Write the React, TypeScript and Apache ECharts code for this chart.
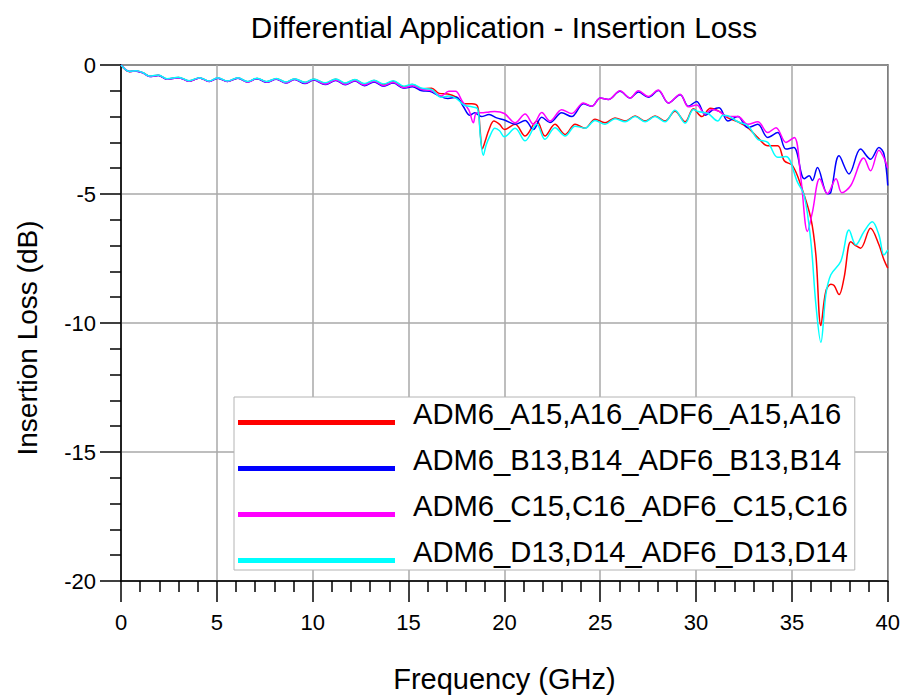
import React, { useEffect, useRef } from "react";
import * as echarts from "echarts";

const titleText = "Differential Application - Insertion Loss";
const xAxisName = "Frequency (GHz)";
const yAxisName = "Insertion Loss (dB)";

const seriesNames = [
  "ADM6_A15,A16_ADF6_A15,A16",
  "ADM6_B13,B14_ADF6_B13,B14",
  "ADM6_C15,C16_ADF6_C15,C16",
  "ADM6_D13,D14_ADF6_D13,D14",
];
const seriesColors = ["#ff0000", "#0000ff", "#ff00ff", "#00ffff"];

// [frequency GHz, insertion loss dB]
const curveA: [number, number][] = [
  [0, 0], [0.45, -0.26], [0.8, -0.23], [1.15, -0.3], [1.5, -0.44], [1.95, -0.4], [2.4, -0.54], [3.0, -0.48],
  [3.55, -0.62], [4.1, -0.5], [4.6, -0.63], [5.05, -0.5], [5.55, -0.63], [6.1, -0.5], [6.6, -0.65], [7.1, -0.52],
  [7.6, -0.65], [8.1, -0.53], [8.6, -0.67], [9.05, -0.54], [9.6, -0.68], [10.05, -0.55], [10.65, -0.7], [11.2, -0.55],
  [11.7, -0.71], [12.2, -0.57], [12.7, -0.74], [13.2, -0.6], [13.7, -0.76], [14.2, -0.63], [14.75, -0.84], [15.2, -0.76],
  [15.7, -0.92], [16.2, -0.9], [16.6, -1.1], [17.05, -1.12], [17.5, -1.25], [17.9, -1.5], [18.3, -1.5], [18.6, -1.6],
  [18.72, -2.4], [18.85, -3.25], [19.0, -2.95], [19.2, -2.5], [19.45, -2.17], [19.75, -2.3], [20.0, -2.5], [20.56, -2.3],
  [21.08, -2.75], [21.69, -2.17], [22.12, -2.75], [22.64, -2.3], [23.17, -2.69], [23.69, -2.3], [24.21, -2.45], [24.73, -2.1],
  [25.25, -2.24], [25.77, -2.05], [26.3, -2.17], [26.82, -1.98], [27.34, -2.17], [27.86, -1.98], [28.38, -2.17], [28.9, -1.79],
  [29.43, -2.2], [29.86, -1.7], [30.3, -2.0], [30.75, -1.68], [31.2, -1.8], [31.66, -2.05], [32.18, -2.2], [32.7, -2.43],
  [33.22, -2.81], [33.74, -3.13], [34.26, -3.13], [34.6, -3.71], [35.03, -3.9], [35.47, -4.67], [35.99, -5.95], [36.25, -7.36],
  [36.51, -10.1], [36.77, -8.77], [37.03, -8.5], [37.2, -8.55], [37.46, -8.9], [37.72, -8.25], [38.07, -6.85], [38.33, -7.0],
  [38.58, -7.1], [39.1, -6.33], [39.54, -6.97], [39.8, -7.55], [40, -7.87],
];

const curveB: [number, number][] = [
  [0, 0], [0.45, -0.25], [0.8, -0.24], [1.15, -0.31], [1.5, -0.45], [1.95, -0.41], [2.4, -0.55], [3.0, -0.49],
  [3.55, -0.63], [4.1, -0.5], [4.6, -0.64], [5.05, -0.51], [5.55, -0.64], [6.1, -0.51], [6.6, -0.66], [7.1, -0.53],
  [7.6, -0.67], [8.1, -0.55], [8.6, -0.7], [9.05, -0.56], [9.6, -0.72], [10.05, -0.58], [10.65, -0.76], [11.2, -0.6],
  [11.7, -0.77], [12.2, -0.62], [12.7, -0.8], [13.2, -0.66], [13.7, -0.82], [14.2, -0.7], [14.75, -0.9], [15.2, -0.84],
  [15.7, -1.0], [16.1, -1.02], [16.6, -1.2], [17.05, -1.3], [17.5, -1.25], [17.85, -1.6], [18.2, -1.95], [18.45, -1.85],
  [18.8, -2.0], [19.2, -1.92], [19.6, -2.05], [20.0, -2.13], [20.56, -2.3], [21.08, -2.15], [21.51, -2.5], [21.95, -2.03],
  [22.38, -2.23], [22.99, -1.85], [23.51, -2.0], [24.12, -1.5], [24.56, -1.6], [25.0, -1.28], [25.43, -1.34], [26.03, -1.02],
  [26.56, -1.28], [26.99, -1.05], [27.51, -1.25], [28.03, -0.99], [28.56, -1.47], [29.17, -1.15], [29.6, -1.6], [30.03, -1.41],
  [30.5, -1.95], [30.85, -1.75], [31.2, -1.66], [31.66, -2.17], [32.18, -2.0], [32.7, -2.43], [33.22, -2.3], [33.74, -2.81],
  [34.26, -2.62], [34.69, -3.26], [35.1, -3.2], [35.64, -4.41], [35.9, -4.29], [36.07, -4.48], [36.33, -3.97], [36.85, -4.99],
  [37.03, -4.93], [37.46, -3.52], [37.98, -4.22], [38.58, -3.26], [39.1, -3.65], [39.54, -3.2], [39.8, -3.45], [40, -4.67],
];

const curveC: [number, number][] = [
  [0, 0], [0.45, -0.25], [0.8, -0.23], [1.15, -0.31], [1.5, -0.45], [1.95, -0.4], [2.4, -0.55], [3.0, -0.49],
  [3.55, -0.63], [4.1, -0.5], [4.6, -0.64], [5.05, -0.5], [5.55, -0.64], [6.1, -0.5], [6.6, -0.66], [7.1, -0.52],
  [7.6, -0.66], [8.1, -0.54], [8.6, -0.69], [9.05, -0.55], [9.6, -0.7], [10.05, -0.56], [10.65, -0.74], [11.2, -0.58],
  [11.7, -0.75], [12.2, -0.6], [12.7, -0.78], [13.2, -0.63], [13.7, -0.8], [14.2, -0.67], [14.75, -0.88], [15.2, -0.8],
  [15.7, -0.95], [16.2, -1.0], [16.7, -1.2], [17.1, -1.02], [17.45, -1.02], [17.8, -1.4], [18.15, -1.75], [18.38, -2.24],
  [18.55, -1.85], [18.9, -1.85], [19.2, -1.82], [19.5, -1.8], [20.0, -1.88], [20.56, -2.24], [21.08, -1.9], [21.51, -2.3],
  [21.95, -1.84], [22.38, -2.17], [22.99, -1.73], [23.51, -1.88], [24.12, -1.47], [24.56, -1.6], [25.0, -1.28], [25.43, -1.34],
  [26.03, -1.0], [26.56, -1.28], [26.99, -1.0], [27.51, -1.22], [28.03, -0.97], [28.56, -1.47], [29.17, -1.13], [29.6, -1.62],
  [30.03, -1.55], [30.47, -1.9], [30.82, -1.72], [31.2, -1.8], [31.66, -2.0], [32.18, -2.0], [32.7, -2.3], [33.22, -2.2],
  [33.74, -2.62], [34.17, -2.43], [34.69, -3.0], [35.12, -2.81], [35.47, -4.41], [35.81, -6.45], [36.07, -5.7], [36.45, -4.41],
  [36.85, -4.99], [37.3, -4.41], [37.6, -4.95], [38.07, -4.67], [38.75, -3.6], [39.1, -4.1], [39.54, -3.3], [39.8, -3.6],
  [40, -4.0],
];

const curveD: [number, number][] = [
  [0, 0], [0.45, -0.25], [0.8, -0.22], [1.15, -0.3], [1.5, -0.43], [1.95, -0.39], [2.4, -0.53], [3.0, -0.47],
  [3.55, -0.61], [4.1, -0.49], [4.6, -0.62], [5.05, -0.49], [5.55, -0.62], [6.1, -0.49], [6.6, -0.64], [7.1, -0.51],
  [7.6, -0.64], [8.1, -0.52], [8.6, -0.66], [9.05, -0.53], [9.6, -0.67], [10.05, -0.54], [10.65, -0.69], [11.2, -0.54],
  [11.7, -0.7], [12.2, -0.56], [12.7, -0.72], [13.2, -0.59], [13.7, -0.74], [14.2, -0.61], [14.75, -0.82], [15.2, -0.75],
  [15.7, -0.9], [16.2, -0.95], [16.7, -1.25], [17.1, -1.2], [17.5, -1.3], [17.9, -1.55], [18.3, -1.62], [18.6, -1.7],
  [18.75, -2.8], [18.9, -3.5], [19.05, -3.1], [19.25, -2.75], [19.5, -2.45], [19.75, -2.55], [20.0, -2.78], [20.56, -2.45],
  [21.08, -2.94], [21.69, -2.3], [22.12, -2.88], [22.64, -2.43], [23.17, -2.75], [23.69, -2.37], [24.21, -2.45], [24.73, -2.15],
  [25.25, -2.3], [25.77, -2.08], [26.3, -2.2], [26.82, -2.0], [27.34, -2.2], [27.86, -2.0], [28.38, -2.2], [28.9, -1.75],
  [29.43, -2.25], [29.86, -1.72], [30.1, -1.8], [30.62, -1.88], [31.14, -2.17], [31.4, -1.95], [31.66, -1.97], [32.18, -2.2],
  [32.7, -2.35], [33.22, -2.88], [33.74, -3.0], [34.26, -3.58], [34.69, -3.55], [35.29, -4.54], [35.64, -5.05], [35.99, -6.85],
  [36.25, -9.28], [36.51, -10.75], [36.77, -8.9], [37.03, -8.13], [37.55, -7.61], [37.98, -6.4], [38.33, -6.97], [38.76, -6.46],
  [39.19, -6.08], [39.54, -6.59], [39.8, -7.36], [40, -7.17],
];

const curves = [curveA, curveB, curveC, curveD];

const FONT = "'Liberation Sans', Arial, sans-serif";

export default function App() {
  const ref = useRef<HTMLDivElement>(null);
  useEffect(() => {
    if (!ref.current) return;
    const chart = echarts.init(ref.current, null, { renderer: "svg" });
    const option: any = {
      animation: false,
      backgroundColor: "#ffffff",
      textStyle: { fontFamily: FONT },
      title: {
        text: titleText,
        left: 499,
        top: 7,
        textAlign: "center",
        textStyle: { fontSize: 29.8, fontWeight: "normal", color: "#000", fontFamily: FONT },
      },
      grid: {
        left: 121,
        right: 12,
        top: 65,
        bottom: 112,
        show: true,
        borderColor: "#000",
        borderWidth: 1.5,
        containLabel: false,
      },
      legend: {
        orient: "vertical",
        left: 234,
        top: 397,
        padding: [1, 7, 2, 4],
        itemWidth: 170,
        itemHeight: 22,
        itemGap: 14,
        icon: "path://M0,0L170,0L170,0L0,0Z M0,17L157,17L157,22L0,22Z",
        symbolKeepAspect: false,
        itemStyle: { borderWidth: 0 },
        backgroundColor: "#ffffff",
        borderColor: "#b4b4b4",
        borderWidth: 1,
        textStyle: { fontSize: 29.2, color: "#000", fontFamily: FONT, lineHeight: 32 },
        data: seriesNames,
      },
      xAxis: {
        type: "value",
        min: 0,
        max: 40,
        interval: 5,
        name: xAxisName,
        nameLocation: "middle",
        nameGap: 83,
        nameTextStyle: { fontSize: 29, color: "#000", fontFamily: FONT },
        axisLine: { show: true, onZero: false, lineStyle: { color: "#000", width: 1.5 } },
        axisTick: { show: true, inside: false, length: 21, lineStyle: { color: "#000", width: 1.5 } },
        minorTick: { show: true, splitNumber: 5, length: 11, lineStyle: { color: "#000", width: 1.5 } },
        axisLabel: { margin: 30, fontSize: 22, color: "#000", fontFamily: FONT },
        splitLine: { show: true, lineStyle: { color: "#a8a8a8", width: 1.5 } },
      },
      yAxis: {
        type: "value",
        min: -20,
        max: 0,
        interval: 5,
        name: yAxisName,
        nameLocation: "middle",
        nameRotate: 90,
        nameGap: 80,
        nameTextStyle: { fontSize: 28, color: "#000", fontFamily: FONT, padding: [0, 30, 0, 0] },
        axisLine: { show: true, onZero: false, lineStyle: { color: "#000", width: 1.5 } },
        axisTick: { show: true, inside: false, length: 21, lineStyle: { color: "#000", width: 1.5 } },
        minorTick: { show: true, splitNumber: 5, length: 11, lineStyle: { color: "#000", width: 1.5 } },
        axisLabel: { margin: 25, fontSize: 22, color: "#000", fontFamily: FONT },
        splitLine: { show: true, lineStyle: { color: "#a8a8a8", width: 1.5 } },
      },
      series: curves.map((data, i) => ({
        name: seriesNames[i],
        type: "line",
        data,
        showSymbol: false,
        smooth: 0.35,
        color: seriesColors[i],
        lineStyle: { color: seriesColors[i], width: 1.5 },
        z: 2 + i,
      })),
    };
    chart.setOption(option);
    return () => chart.dispose();
  }, []);
  return (
    <div
      ref={ref}
      style={{ position: "fixed", left: 0, top: 0, width: 903, height: 698, background: "#fff" }}
    />
  );
}
